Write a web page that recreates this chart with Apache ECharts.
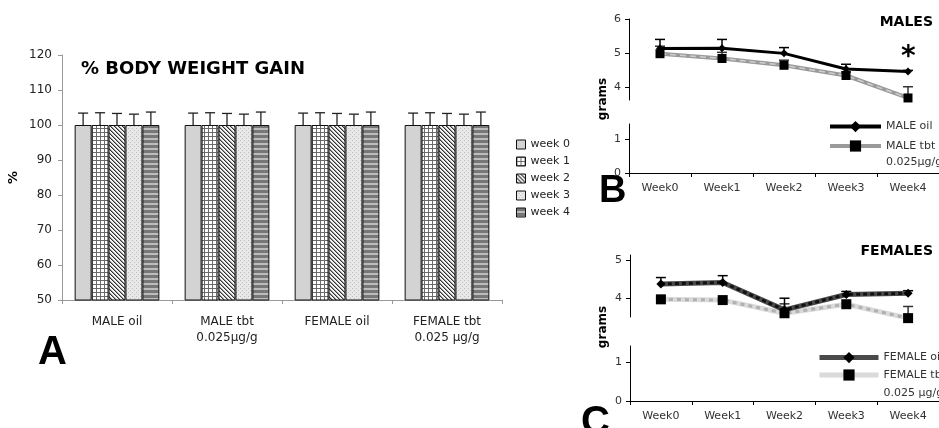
<!DOCTYPE html>
<html><head><meta charset="utf-8">
<script src="https://cdn.jsdelivr.net/npm/echarts@6/dist/echarts.min.js"></script>
<style>html,body{margin:0;padding:0;background:#fff}#c{width:939px;height:428px}</style>
</head><body><div id="c"></div>
<script>
// ---------- Panel A data ----------
const groupsA = ['MALE oil', 'MALE tbt\n0.025µg/g', 'FEMALE oil', 'FEMALE tbt\n0.025 µg/g'];
const weekNamesA = ['week 0', 'week 1', 'week 2', 'week 3', 'week 4'];
const gainWeek0 = [100, 100, 100, 100];
const gainWeek1 = [100, 100, 100, 100];
const gainWeek2 = [100, 100, 100, 100];
const gainWeek3 = [100, 100, 100, 100];
const gainWeek4 = [100, 100, 100, 100];
const errWeek0 = [3.4, 3.4, 3.4, 3.4];
const errWeek1 = [3.5, 3.5, 3.5, 3.5];
const errWeek2 = [3.3, 3.3, 3.3, 3.3];
const errWeek3 = [3.1, 3.1, 3.1, 3.1];
const errWeek4 = [3.7, 3.7, 3.7, 3.7];
const yTicksA = [50, 60, 70, 80, 90, 100, 110, 120];

// ---------- Panels B / C data ----------
const weeks = ['Week0', 'Week1', 'Week2', 'Week3', 'Week4'];
const maleOil = [5.13, 5.14, 4.99, 4.53, 4.46];
const maleOilErr = [0.27, 0.26, 0.17, 0.14, 0.03];
const maleTbt = [4.98, 4.84, 4.64, 4.34, 3.68];
const maleTbtErr = [0.22, 0.18, 0.15, 0.1, 0.33];
const femaleOil = [4.38, 4.42, 3.69, 4.10, 4.13];
const femaleOilErr = [0.17, 0.18, 0.31, 0.08, 0.07];
const femaleTbt = [3.97, 3.95, 3.60, 3.84, 3.47];
const femaleTbtErr = [0.03, 0.03, 0.25, 0.03, 0.31];
const maleUpperTicks = [4, 5, 6];
const femaleUpperTicks = [4, 5];
const lowerTicks = [0, 1];

const gainSeries = [gainWeek0, gainWeek1, gainWeek2, gainWeek3, gainWeek4];
const errSeries = [errWeek0, errWeek1, errWeek2, errWeek3, errWeek4];

const FONT = 'DejaVu Sans';

function pattern(w, h, draw) {
  const c = document.createElement('canvas');
  c.width = w; c.height = h;
  const g = c.getContext('2d');
  draw(g);
  return { image: c, repeat: 'repeat' };
}
const fills = [
  '#d3d3d3',
  pattern(4, 4, g => { g.fillStyle = '#fff'; g.fillRect(0, 0, 4, 4); g.fillStyle = '#6a6a6a'; g.fillRect(0, 0, 4, 1); g.fillRect(0, 0, 1, 4); }),
  pattern(4, 4, g => { g.fillStyle = '#f4f4f4'; g.fillRect(0, 0, 4, 4); g.fillStyle = '#333'; for (let i = 0; i < 4; i++) g.fillRect(i, i, 1, 1); g.fillStyle = '#999'; for (let i = 0; i < 4; i++) g.fillRect((i + 1) % 4, i, 1, 1); }),
  pattern(4, 4, g => { g.fillStyle = '#e8e8e8'; g.fillRect(0, 0, 4, 4); g.fillStyle = '#bdbdbd'; g.fillRect(0, 0, 1, 1); g.fillRect(2, 2, 1, 1); }),
  pattern(1, 5, g => { g.fillStyle = '#777'; g.fillRect(0, 0, 1, 3); g.fillStyle = '#bcbcbc'; g.fillRect(0, 3, 1, 2); })
];

const barCatGap = 0.23;
const series = [];
weekNamesA.forEach((n, k) => {
  series.push({
    name: n, type: 'bar', xAxisIndex: 0, yAxisIndex: 0,
    barGap: '0%', barCategoryGap: (barCatGap * 100) + '%',
    data: gainSeries[k],
    itemStyle: { color: fills[k], borderColor: '#111', borderWidth: 1 },
    emphasis: { disabled: true }
  });
});
weekNamesA.forEach((n, k) => {
  series.push({
    type: 'custom', xAxisIndex: 0, yAxisIndex: 0, silent: true, z: 1,
    data: groupsA.map((g, i) => [i, gainSeries[k][i], errSeries[k][i]]),
    renderItem(params, api) {
      const band = api.size([1, 0])[0];
      const gw = band * (1 - barCatGap), bw = gw / 5;
      const c = api.coord([api.value(0), api.value(1)]);
      const t = api.coord([api.value(0), api.value(1) + api.value(2)]);
      const x = c[0] - gw / 2 + (k + 0.5) * bw;
      const st = { stroke: '#222', lineWidth: 1.3 };
      return { type: 'group', children: [
        { type: 'line', shape: { x1: x, y1: c[1], x2: x, y2: t[1] }, style: st },
        { type: 'line', shape: { x1: x - 5, y1: t[1], x2: x + 5, y2: t[1] }, style: st }
      ] };
    }
  });
});

function errLine(vals, errs, xi, color) {
  return {
    type: 'custom', xAxisIndex: xi, yAxisIndex: xi, silent: true, z: 1,
    data: vals.map((v, i) => [i, v, errs[i]]),
    renderItem(params, api) {
      const c = api.coord([api.value(0), api.value(1)]);
      const t = api.coord([api.value(0), api.value(1) + api.value(2)]);
      const st = { stroke: color, lineWidth: 1.5 };
      return { type: 'group', children: [
        { type: 'line', shape: { x1: c[0], y1: c[1], x2: c[0], y2: t[1] }, style: st },
        { type: 'line', shape: { x1: c[0] - 5, y1: t[1], x2: c[0] + 5, y2: t[1] }, style: st }
      ] };
    }
  };
}
function lineS(name, data, xi, o) {
  return Object.assign({
    name: name, type: 'line', xAxisIndex: xi, yAxisIndex: xi, data: data,
    clip: false, z: 3, emphasis: { disabled: true }, animation: false
  }, o);
}
function overlay(data, xi, color, width, dash) {
  return { type: 'line', xAxisIndex: xi, yAxisIndex: xi, data: data, clip: false, z: 3,
    symbol: 'none', silent: true, animation: false,
    lineStyle: { color: color, width: width, type: dash } };
}

// Males
series.push(errLine(maleTbt, maleTbtErr, 1, '#333'));
series.push(errLine(maleOil, maleOilErr, 1, '#000'));
series.push(lineS('MALE tbt\n0.025µg/g', maleTbt, 1, {
  symbol: 'rect', symbolSize: 9, itemStyle: { color: '#000' },
  lineStyle: { color: '#9a9a9a', width: 4 }
}));
series.push(overlay(maleTbt, 1, '#cfcfcf', 1.5, [6, 4]));
series.push(lineS('MALE oil', maleOil, 1, {
  symbol: 'diamond', symbolSize: 8, itemStyle: { color: '#000' },
  lineStyle: { color: '#000', width: 3 }
}));
// Females
series.push(errLine(femaleTbt, femaleTbtErr, 3, '#333'));
series.push(errLine(femaleOil, femaleOilErr, 3, '#000'));
series.push(lineS('FEMALE tbt\n0.025 µg/g', femaleTbt, 3, {
  symbol: 'rect', symbolSize: 10, itemStyle: { color: '#000' },
  lineStyle: { color: '#dadada', width: 5 }
}));
series.push(overlay(femaleTbt, 3, '#b0b0b0', 3, [4, 4]));
series.push(lineS('FEMALE oil', femaleOil, 3, {
  symbol: 'diamond', symbolSize: 9, itemStyle: { color: '#000' },
  lineStyle: { color: '#4a4a4a', width: 5 }
}));
series.push(overlay(femaleOil, 3, '#111', 3, [4, 3]));

const axisTxt = { fontFamily: FONT, fontSize: 11, color: '#333' };
const blk = { lineStyle: { color: '#000', width: 1 } };

function catAxis(grid, data, show, extra) {
  return Object.assign({
    type: 'category', gridIndex: grid, data: data, show: show, boundaryGap: true,
    axisLine: blk, axisTick: { show: true, interval: 0, length: 4, lineStyle: { color: '#000' } },
    axisLabel: Object.assign({ interval: 0, margin: 10 }, axisTxt)
  }, extra || {});
}
function valAxis(grid, min, max, ticks) {
  return {
    type: 'value', gridIndex: grid, min: min, max: max,
    axisLine: { show: true, lineStyle: { color: '#000' } },
    axisTick: { show: true, length: 4, customValues: ticks, lineStyle: { color: '#000' } },
    axisLabel: Object.assign({ customValues: ticks, margin: 8 }, axisTxt),
    splitLine: { show: false }
  };
}

const titleTxt = (t, left, top, size, fam, extra) => Object.assign({
  text: t, left: left, top: top, padding: 0,
  textStyle: { fontFamily: fam || FONT, fontWeight: 'bold', fontSize: size, color: '#000' }
}, extra || {});

const lineLegendTxt = { fontFamily: FONT, fontSize: 11, color: '#333' };

const option = {
  animation: false,
  backgroundColor: '#fff',
  title: [
    titleTxt('% BODY WEIGHT GAIN', 81, 60, 18),
    titleTxt('MALES', null, 15, 14, FONT, { right: 6 }),
    titleTxt('FEMALES', null, 244, 14, FONT, { right: 6 }),
    titleTxt('*', 901, 44, 28),
    titleTxt('A', 38, 333, 40, 'Liberation Sans'),
    titleTxt('B', 599, 173, 38, 'Liberation Sans'),
    titleTxt('C', 581, 403, 40, 'Liberation Sans')
  ],
  legend: [
    { orient: 'vertical', left: 516, top: 138, padding: 0, itemWidth: 9, itemHeight: 9, itemGap: 4,
      icon: 'rect', data: weekNamesA,
      itemStyle: { borderColor: '#111', borderWidth: 1 },
      textStyle: { fontFamily: FONT, fontSize: 11, color: '#222', lineHeight: 13 } },
    { orient: 'vertical', left: 828, top: 121, padding: 0, itemWidth: 51, itemHeight: 14,
      data: ['MALE oil'], lineStyle: { width: 4 }, textStyle: lineLegendTxt },
    { orient: 'vertical', left: 828, top: 122, padding: 0, itemWidth: 51, itemHeight: 14,
      data: ['MALE tbt\n0.025µg/g'], formatter: n => ' \n' + n, lineStyle: { width: 4 },
      textStyle: Object.assign({ lineHeight: 16 }, lineLegendTxt) },
    { orient: 'vertical', left: 817, top: 352, padding: 0, itemWidth: 59, itemHeight: 14,
      data: ['FEMALE oil'], lineStyle: { width: 5 }, textStyle: lineLegendTxt },
    { orient: 'vertical', left: 817, top: 348, padding: 0, itemWidth: 59, itemHeight: 14,
      data: ['FEMALE tbt\n0.025 µg/g'], formatter: n => ' \n' + n, lineStyle: { width: 5 },
      textStyle: Object.assign({ lineHeight: 18 }, lineLegendTxt) }
  ],
  graphic: [
    { type: 'text', x: 603, y: 99, rotation: Math.PI / 2,
      style: { text: 'grams', font: 'bold 12px "DejaVu Sans"', fill: '#000', align: 'center', verticalAlign: 'middle' } },
    { type: 'text', x: 603, y: 327, rotation: Math.PI / 2,
      style: { text: 'grams', font: 'bold 12px "DejaVu Sans"', fill: '#000', align: 'center', verticalAlign: 'middle' } }
  ],
  grid: [
    { left: 62, top: 55, width: 440, height: 245 },
    { left: 629, top: 19, width: 310, height: 81 },
    { left: 629, top: 124, width: 310, height: 49 },
    { left: 630, top: 255, width: 309, height: 62 },
    { left: 630, top: 346, width: 309, height: 55 }
  ],
  xAxis: [
    catAxis(0, groupsA, true, {
      axisLine: { lineStyle: { color: '#999' } },
      axisTick: { show: true, interval: 0, length: 4, lineStyle: { color: '#999' } },
      axisLabel: { interval: 0, margin: 14, fontFamily: FONT, fontSize: 12, color: '#222', lineHeight: 16 }
    }),
    catAxis(1, weeks, false),
    catAxis(2, weeks, true),
    catAxis(3, weeks, false),
    catAxis(4, weeks, true)
  ],
  yAxis: [
    { type: 'value', gridIndex: 0, min: yTicksA[0], max: yTicksA[yTicksA.length - 1], interval: 10,
      name: '%', nameLocation: 'middle', nameRotate: 90, nameGap: 42,
      nameTextStyle: { fontFamily: FONT, fontWeight: 'bold', fontSize: 13, color: '#000' },
      axisLine: { show: true, lineStyle: { color: '#999' } },
      axisTick: { show: true, length: 4, lineStyle: { color: '#999' } },
      axisLabel: { fontFamily: FONT, fontSize: 12, color: '#222', margin: 10 },
      splitLine: { show: false } },
    valAxis(1, 3.62, 6, maleUpperTicks),
    valAxis(2, 0, 1.45, lowerTicks),
    valAxis(3, 3.5, 5.15, femaleUpperTicks),
    valAxis(4, 0, 1.42, lowerTicks)
  ],
  series: series
};
echarts.init(document.getElementById('c')).setOption(option);
</script></body></html>
